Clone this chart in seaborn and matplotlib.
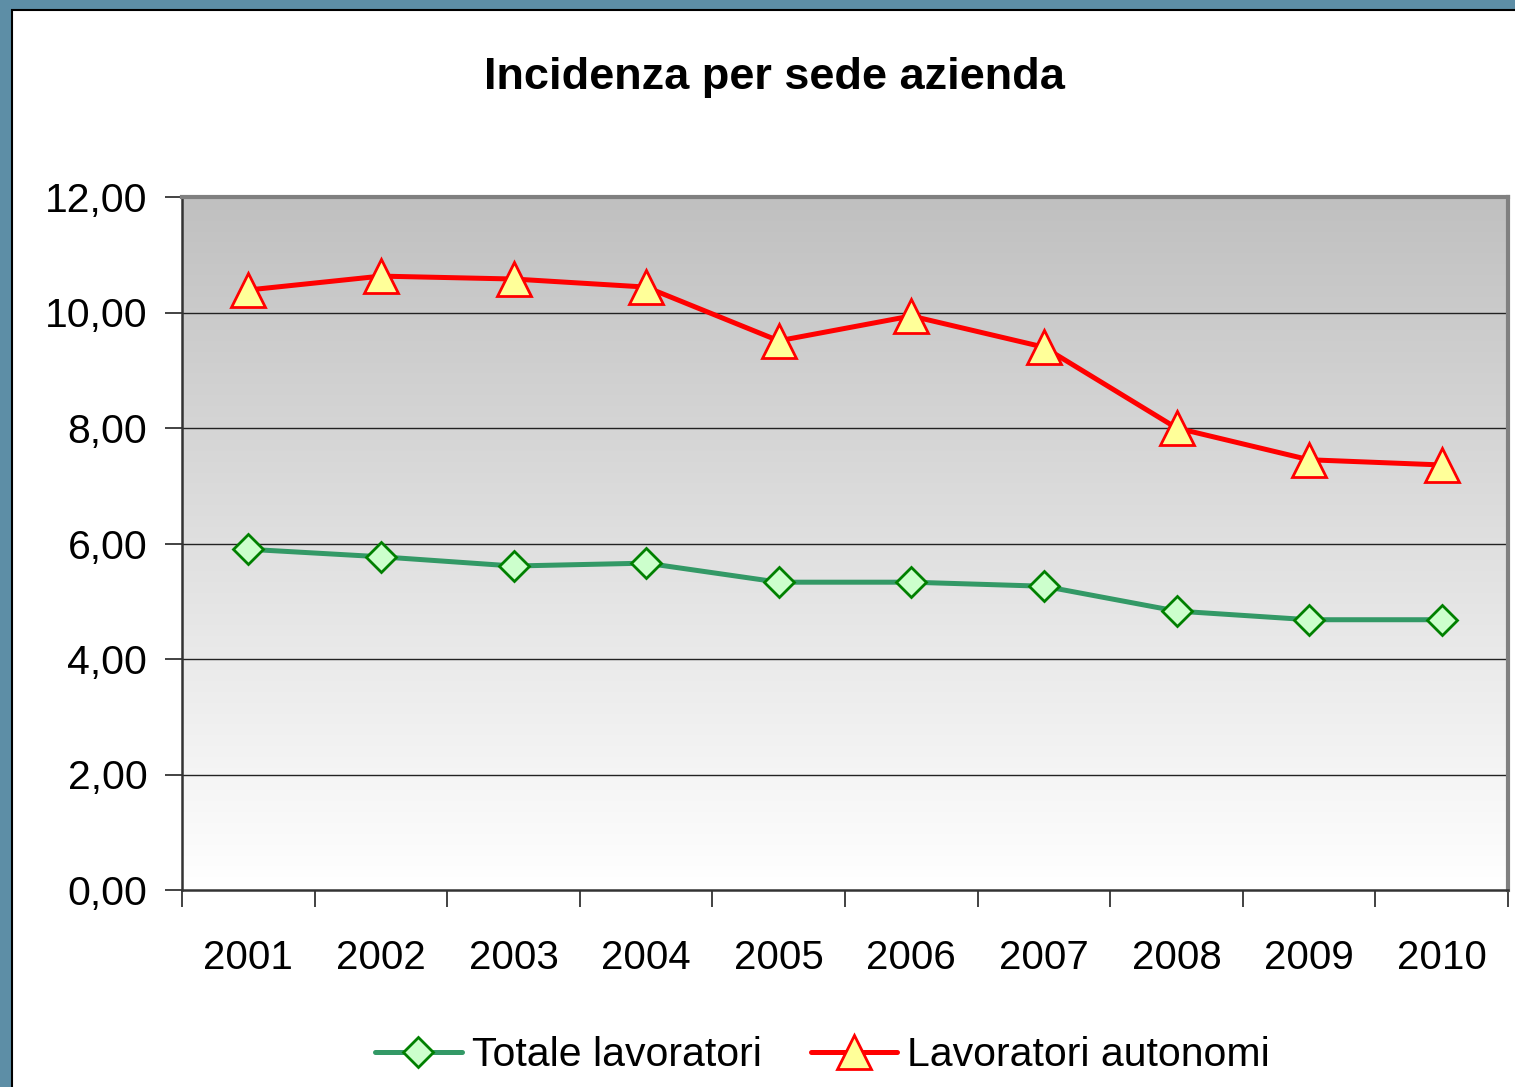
import numpy as np
import pandas as pd
import seaborn as sns
import matplotlib.pyplot as plt
from matplotlib.patches import Rectangle
from matplotlib.colors import LinearSegmentedColormap

# Data
anni = ['2001', '2002', '2003', '2004', '2005', '2006', '2007', '2008', '2009', '2010']
totale_lavoratori = [5.90, 5.77, 5.61, 5.66, 5.33, 5.33, 5.26, 4.83, 4.68, 4.68]
lavoratori_autonomi = [10.39, 10.63, 10.58, 10.44, 9.51, 9.94, 9.40, 8.00, 7.45, 7.36]
y_ticks = [0, 2, 4, 6, 8, 10, 12]

df = pd.DataFrame({'pos': range(len(anni)),
                   'Totale lavoratori': totale_lavoratori,
                   'Lavoratori autonomi': lavoratori_autonomi})

sns.set_style('white')
plt.rcParams['font.family'] = ['Liberation Sans', 'DejaVu Sans']
plt.rcParams['text.color'] = 'black'
plt.rcParams['xtick.color'] = 'black'
plt.rcParams['ytick.color'] = 'black'

fig = plt.figure(figsize=(15.15, 10.87), dpi=100, facecolor='#5d8ea6')

# white chart frame on top of the slide background
fig.patches.append(Rectangle((12 / 1515, -0.05), 1.2, 1 - 10 / 1087 + 0.05,
                             transform=fig.transFigure, facecolor='white',
                             edgecolor='black', linewidth=1.5, zorder=-5))

ax = fig.add_axes([182 / 1515, 1 - 890 / 1087, 1326 / 1515, 693 / 1087])
ax.set_facecolor('none')

# grey gradient background of the plot area
grad = np.linspace(0, 1, 256).reshape(-1, 1)
ax.imshow(grad, cmap=LinearSegmentedColormap.from_list('g', ['#ffffff', '#c0c0c0']),
          origin='lower', aspect='auto', extent=[0, 1, 0, 1],
          transform=ax.transAxes, zorder=0)

for y in y_ticks[1:-1]:
    ax.axhline(y, color='#222222', linewidth=1.0, zorder=1)

sns.lineplot(data=df, x='pos', y='Totale lavoratori', ax=ax, color='#339966',
             linewidth=3.6, marker='D', markersize=15, markerfacecolor='#ccffcc',
             markeredgecolor='#008000', markeredgewidth=2, label='Totale lavoratori',
             zorder=3)
sns.lineplot(data=df, x='pos', y='Lavoratori autonomi', ax=ax, color='#ff0000',
             linewidth=3.6, marker='^', markersize=24, markerfacecolor='#ffff99',
             markeredgecolor='#ff0000', markeredgewidth=2, label='Lavoratori autonomi',
             zorder=4)

ax.set_xlim(-0.5, len(anni) - 0.5)
ax.set_ylim(0, 12)
ax.set_xticks(range(len(anni)))
ax.set_xticklabels(anni, fontsize=29)
ax.set_xticks(np.arange(-0.5, len(anni), 1), minor=True)
ax.tick_params(axis='x', which='major', length=0, pad=35, bottom=True)
ax.tick_params(axis='x', which='minor', length=12, width=1.2, color='#222222',
               direction='out', bottom=True)
ax.set_yticks(y_ticks)
ax.set_yticklabels([f'{v:.2f}'.replace('.', ',') for v in y_ticks], fontsize=29.5)
ax.tick_params(axis='y', length=12, width=1.2, color='#222222', direction='out',
               pad=13, left=True)
ax.set_xlabel('')
ax.set_ylabel('')

for side in ['left', 'bottom']:
    ax.spines[side].set_color('#333333')
    ax.spines[side].set_linewidth(1.8)
for side in ['top', 'right']:
    ax.spines[side].set_color('#808080')
    ax.spines[side].set_linewidth(3)
    ax.spines[side].set_visible(True)

ax.get_legend().remove()
handles, labels = ax.get_legend_handles_labels()
fig.legend(handles, labels, loc='center', bbox_to_anchor=(0.543, 0.029), ncol=2,
           frameon=False, fontsize=29.5, handlelength=2.1, handletextpad=0.25,
           columnspacing=1.2)

fig.text(0.511, 0.929, 'Incidenza per sede azienda', ha='center', va='center',
         fontsize=32.5, fontweight='bold')

fig.savefig('out.png', dpi=100, facecolor=fig.get_facecolor())
